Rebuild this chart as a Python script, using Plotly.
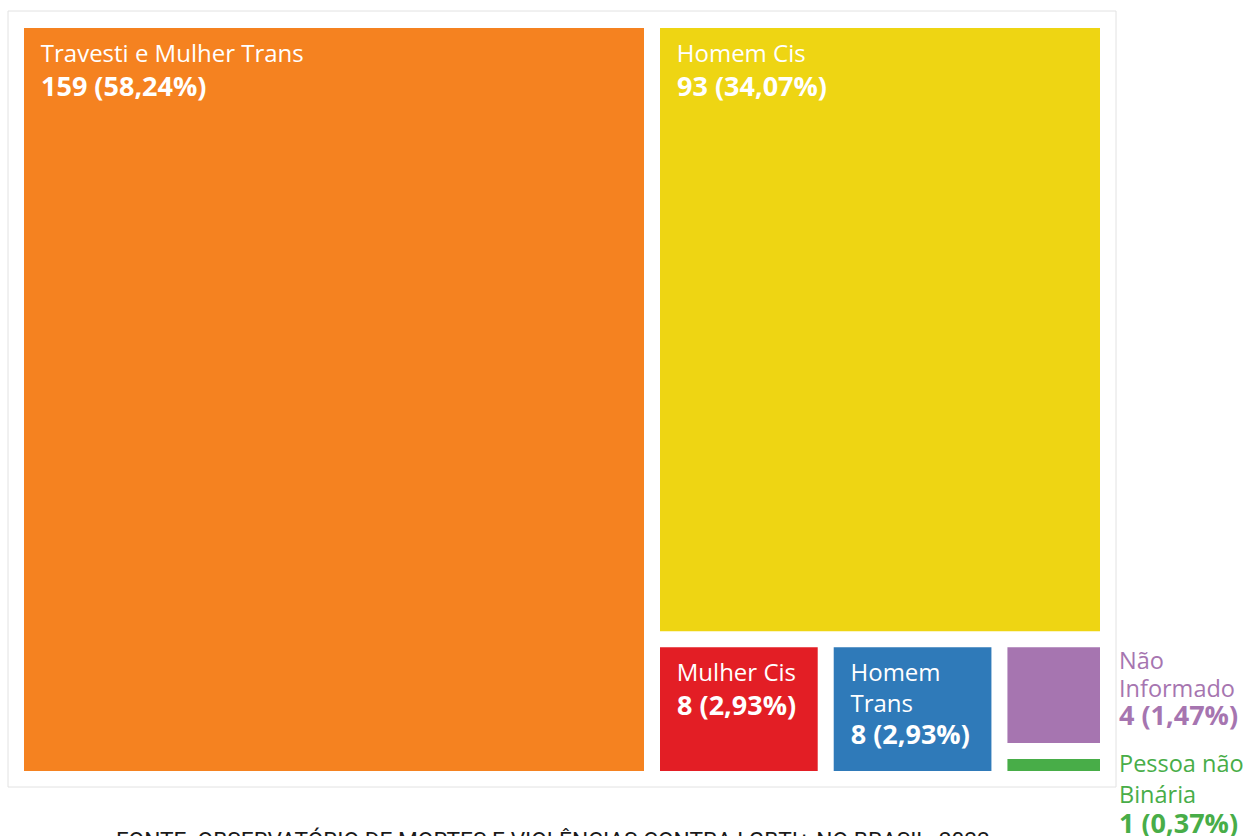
import plotly.graph_objects as go

# ---- data ----
categories = ["Travesti e Mulher Trans", "Homem Cis", "Mulher Cis", "Homem Trans",
              "Não Informado", "Pessoa não Binária"]
display_names = ["Travesti e Mulher Trans", "Homem Cis", "Mulher Cis", "Homem<br>Trans",
                 "Não<br>Informado", "Pessoa não<br>Binária"]
counts = [159, 93, 8, 8, 4, 1]
percents = ["58,24%", "34,07%", "2,93%", "2,93%", "1,47%", "0,37%"]
colors = ["#f58220", "#eed513", "#e31e25", "#2f7ab9", "#a675b0", "#48ad48"]
inside_label = [True, True, True, True, False, False]
source_text = "FONTE: OBSERVATÓRIO DE MORTES E VIOLÊNCIAS CONTRA LGBTI+ NO BRASIL, 2022"

W, H = 1247, 836


def px(x):
    return x / W


def py(y):
    return 1 - y / H


NB = "\u00a0"
LABEL_PX, VALUE_PX = 24, 27

texts, base_sizes = [], []
for name, n, p, inside in zip(display_names, counts, percents, inside_label):
    if not inside:
        texts.append("")
        base_sizes.append(22)
        continue
    lines = name.split("<br>")
    lab = "<br>".join(
        f"<span style='font-size:29px'>{NB}</span>"
        f"<span style='font-size:{LABEL_PX}px'>{NB}{l}</span>"
        for l in lines)
    val = f"<span style='font-size:{VALUE_PX}px'><b>{NB}{NB}{n} ({p})</b></span>"
    texts.append(lab + "<br>" + val)
    base_sizes.append(26 if len(lines) == 1 else 24)

fig = go.Figure(go.Treemap(
    labels=categories,
    parents=[""] * len(categories),
    values=counts,
    text=texts,
    texttemplate="%{text}",
    textposition="top left",
    textfont=dict(family="Open Sans", color="white", size=base_sizes),
    marker=dict(colors=colors, line=dict(width=0), pad=dict(t=0, l=0, r=0, b=0)),
    tiling=dict(packing="squarify", pad=16),
    root=dict(color="white"),
    pathbar=dict(visible=False),
    sort=True,
    hovertemplate="%{label}: %{value}<extra></extra>",
    domain=dict(x=[px(24), px(1100)], y=[py(771), py(28)]),
))

# light frame around the chart area
fig.add_shape(type="rect", xref="paper", yref="paper",
              x0=px(8), x1=px(1116), y0=py(787), y1=py(11),
              line=dict(color="#e2e2e2", width=1), fillcolor="white", layer="below")

# outside labels for the two smallest tiles
NAME_PX, OUT_VALUE_PX = 23.5, 27
blocks = {4: (668, 21.5), 5: (771, 23.5)}   # first baseline, line-spacing base size
for idx, (bl, base) in blocks.items():
    name_lines = display_names[idx].split("<br>")
    txt = "<br>".join(f"<span style='font-size:{NAME_PX}px'>{l}</span>" for l in name_lines)
    txt += f"<br><span style='font-size:{OUT_VALUE_PX}px'><b>{counts[idx]} ({percents[idx]})</b></span>"
    top = bl - 1 - 1.069 * NAME_PX
    fig.add_annotation(
        xref="paper", yref="paper", x=px(1117), y=py(top),
        xanchor="left", yanchor="top", align="left", showarrow=False,
        text=txt,
        font=dict(family="Open Sans", size=base, color=colors[idx]),
    )

fig.add_annotation(
    xref="paper", yref="paper", x=px(114), y=py(825),
    xanchor="left", yanchor="top", showarrow=False,
    text=source_text,
    font=dict(family="Roboto", size=22.7, color="#1a1a1a"),
)

fig.update_layout(
    width=W, height=H,
    margin=dict(l=0, r=0, t=0, b=0),
    paper_bgcolor="white",
    plot_bgcolor="white",
)

fig.write_html(
    "out.html",
    config={"displayModeBar": False},
    post_script="document.body.style.margin='0';document.body.style.overflow='hidden';",
)
